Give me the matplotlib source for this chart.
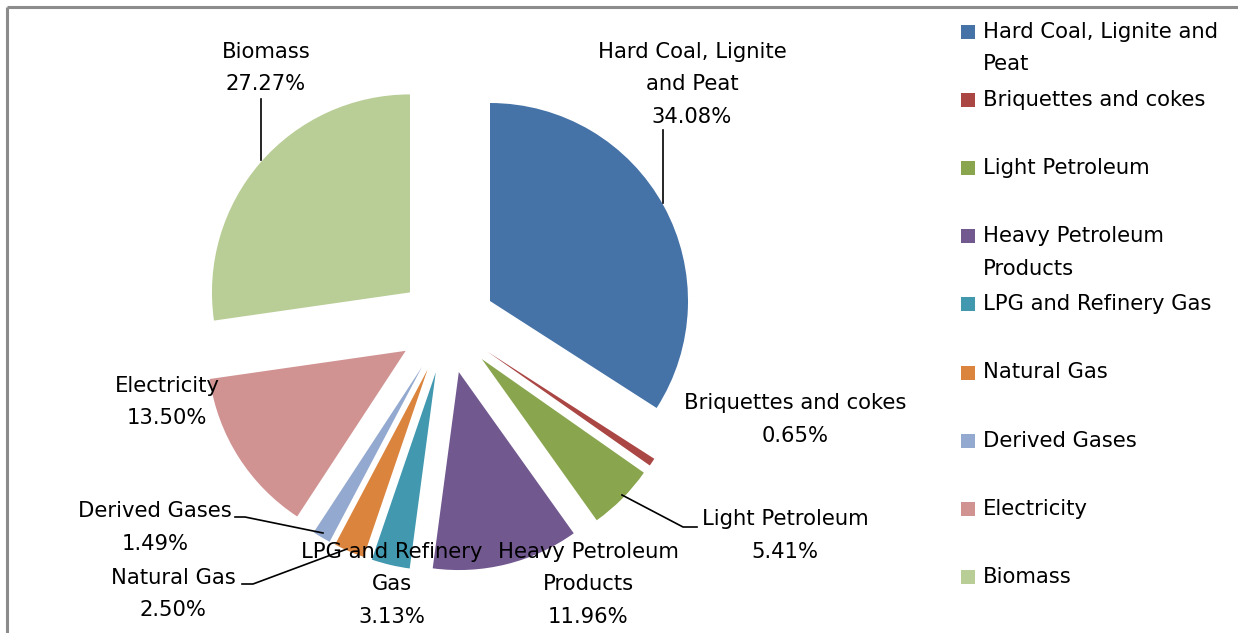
import matplotlib
matplotlib.use("Agg")
import matplotlib.pyplot as plt
from matplotlib.patches import Rectangle
import numpy as np

W, H = 1238, 633

categories = ["Hard Coal, Lignite and Peat", "Briquettes and cokes", "Light Petroleum",
              "Heavy Petroleum Products", "LPG and Refinery Gas", "Natural Gas",
              "Derived Gases", "Electricity", "Biomass"]
values = [34.08, 0.65, 5.41, 11.96, 3.13, 2.50, 1.49, 13.50, 27.27]
colors = ["#4572A7", "#AA4643", "#89A54E", "#71588F", "#4198AF",
          "#DB843D", "#93A9CF", "#D19392", "#B9CD96"]
# data label text lines (name lines) per category
label_lines = [["Hard Coal, Lignite", "and Peat"], ["Briquettes and cokes"], ["Light Petroleum"],
               ["Heavy Petroleum", "Products"], ["LPG and Refinery", "Gas"], ["Natural Gas"],
               ["Derived Gases"], ["Electricity"], ["Biomass"]]
legend_lines = [["Hard Coal, Lignite and", "Peat"], ["Briquettes and cokes"], ["Light Petroleum"],
                ["Heavy Petroleum", "Products"], ["LPG and Refinery Gas"], ["Natural Gas"],
                ["Derived Gases"], ["Electricity"], ["Biomass"]]

FONT = "DejaVu Sans"
FS = 15.2

fig = plt.figure(figsize=(W / 100, H / 100), dpi=100)
ax = fig.add_axes([0, 0, 1, 1])

def Y(p):
    return H - p

cx, cy, R, EXP = 447, 324.5, 198, 49
ax.pie(values, colors=colors, startangle=90, counterclock=False, radius=R,
       center=(cx, Y(cy)), explode=[EXP] * len(values),
       wedgeprops=dict(linewidth=0))
ax.set_xlim(0, W)
ax.set_ylim(0, H)
ax.set_aspect("auto")
ax.axis("off")

# chart border (top and left visible)
ax.plot([6.5, W], [Y(6.5), Y(6.5)], color="#8c8c8c", lw=2.2, solid_capstyle="butt")
ax.plot([6.5, 6.5], [Y(6.5), 0], color="#8c8c8c", lw=2.2, solid_capstyle="butt")

# data label positions (center x, first-line center y)
label_pos = [(692, 52), (795, 403), (785, 519), (588, 552), (392, 552),
             (173, 578), (155, 511), (167, 386), (266, 52)]
LS = 32.5
for lines, v, (x, y0) in zip(label_lines, values, label_pos):
    allines = lines + [f"{v:.2f}%"]
    for k, t in enumerate(allines):
        ax.text(x, Y(y0 + k * LS), t, ha="center", va="center", fontsize=FS,
                family=FONT, color="black")

# leader lines
leaders = [
    [(663, 130), (663, 203)],
    [(697, 527), (683, 527), (622, 495)],
    [(242, 584), (253, 584), (347, 549)],
    [(235, 517), (245, 517), (323, 533)],
    [(261, 99), (261, 160)],
]
for pts in leaders:
    xs = [p[0] for p in pts]
    ys = [Y(p[1]) for p in pts]
    ax.plot(xs, ys, color="black", lw=1.2)

# legend
for i, (lines, c) in enumerate(zip(legend_lines, colors)):
    yc = 32 + i * 68.1
    ax.add_patch(Rectangle((961, Y(yc + 7)), 14, 14, facecolor=c, edgecolor="none"))
    for k, t in enumerate(lines):
        ax.text(983, Y(yc + k * 32.5), t, ha="left", va="center", fontsize=FS,
                family=FONT, color="black")

fig.savefig("out.png", dpi=100)
